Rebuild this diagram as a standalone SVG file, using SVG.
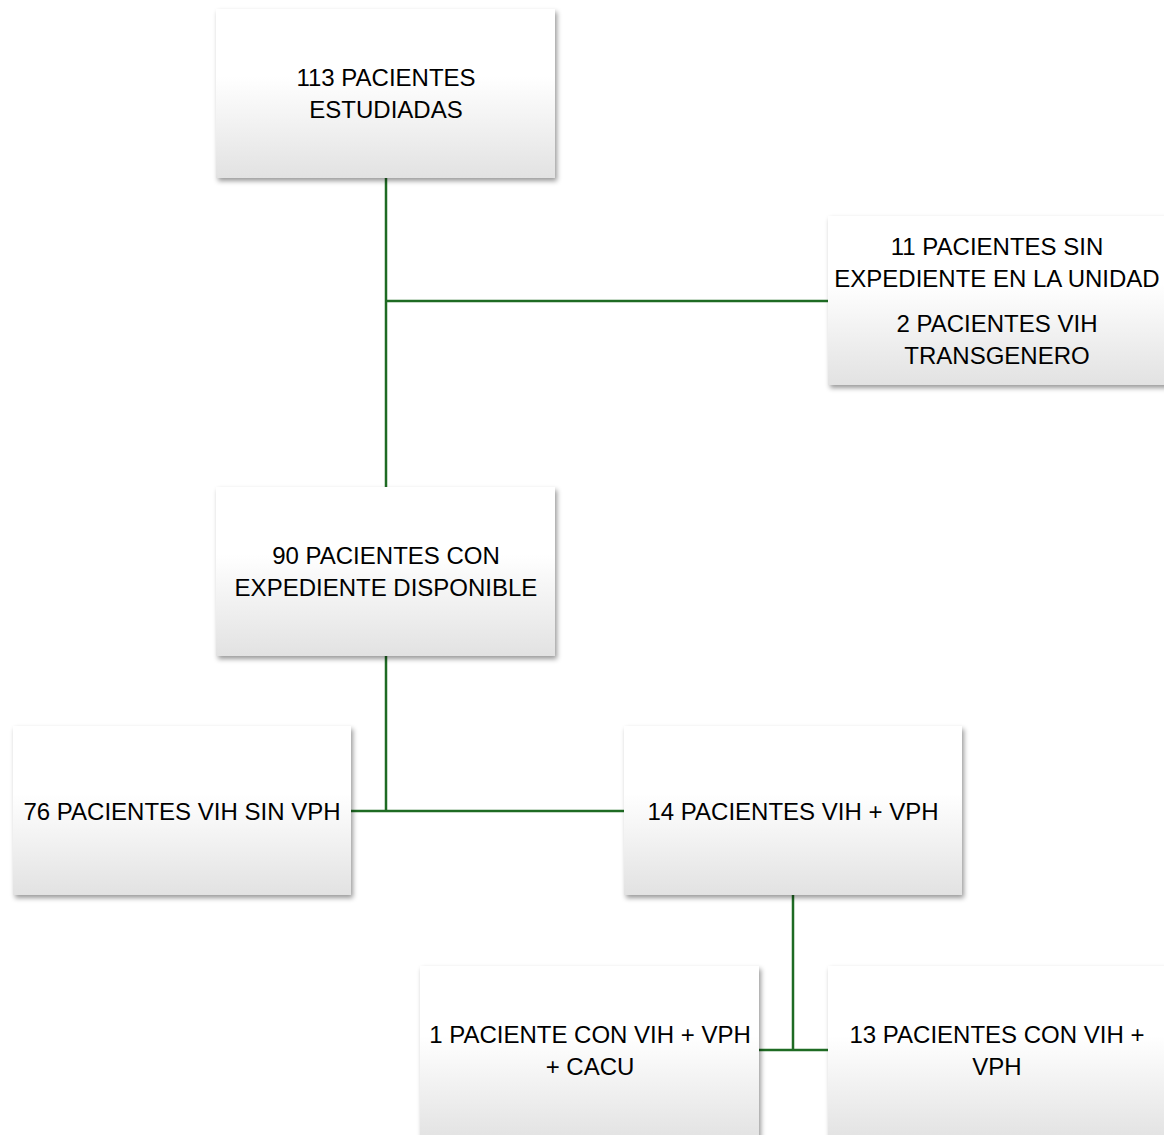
<svg xmlns="http://www.w3.org/2000/svg" width="1164" height="1135" viewBox="0 0 1164 1135">
<defs>
<linearGradient id="g" x1="0" y1="0" x2="0" y2="1">
<stop offset="0" stop-color="#ffffff"/>
<stop offset="0.4" stop-color="#ffffff"/>
<stop offset="1" stop-color="#e2e2e2"/>
</linearGradient>
<filter id="sh" x="-10%" y="-10%" width="125%" height="130%">
<feDropShadow dx="2" dy="3" stdDeviation="2.5" flood-color="#000" flood-opacity="0.4"/>
</filter>
</defs>
<style>
.box{fill:url(#g);filter:url(#sh);}
.t{font-family:"Liberation Sans",Arial,sans-serif;font-size:24px;fill:#000;text-anchor:middle;}
.c{stroke:#1e6b23;stroke-width:2.5;fill:none;}
</style>
<rect width="1164" height="1135" fill="#fff"/>
<g id="connectors">
<path class="c" d="M386 178V487M386 301H828"/>
<path class="c" d="M386 656V811M351 811H624"/>
<path class="c" d="M793 895V1050M759 1050H828"/>
</g>
<g id="n1"><rect class="box" x="216" y="9" width="339" height="169"/>
<text class="t" x="386" y="85.5">113 PACIENTES</text><text class="t" x="386" y="117.5">ESTUDIADAS</text></g>
<g id="n2"><rect class="box" x="828" y="216" width="340" height="169"/>
<text class="t" x="997" y="254.5">11 PACIENTES SIN</text><text class="t" x="997" y="286.5">EXPEDIENTE EN LA UNIDAD</text>
<text class="t" x="997" y="331.5">2 PACIENTES VIH</text><text class="t" x="997" y="363.5">TRANSGENERO</text></g>
<g id="n3"><rect class="box" x="216" y="487" width="339" height="169"/>
<text class="t" x="386" y="563.5">90 PACIENTES CON</text><text class="t" x="386" y="595.5">EXPEDIENTE DISPONIBLE</text></g>
<g id="n4"><rect class="box" x="13" y="726" width="338" height="169"/>
<text class="t" x="182" y="819.5">76 PACIENTES VIH SIN VPH</text></g>
<g id="n5"><rect class="box" x="624" y="726" width="338" height="169"/>
<text class="t" x="793" y="819.5">14 PACIENTES VIH + VPH</text></g>
<g id="n6"><rect class="box" x="420" y="966" width="339" height="175"/>
<text class="t" x="590" y="1042.5">1 PACIENTE CON VIH + VPH</text><text class="t" x="590" y="1074.5">+ CACU</text></g>
<g id="n7"><rect class="box" x="828" y="966" width="340" height="175"/>
<text class="t" x="997" y="1042.5">13 PACIENTES CON VIH +</text><text class="t" x="997" y="1074.5">VPH</text></g>
</svg>
